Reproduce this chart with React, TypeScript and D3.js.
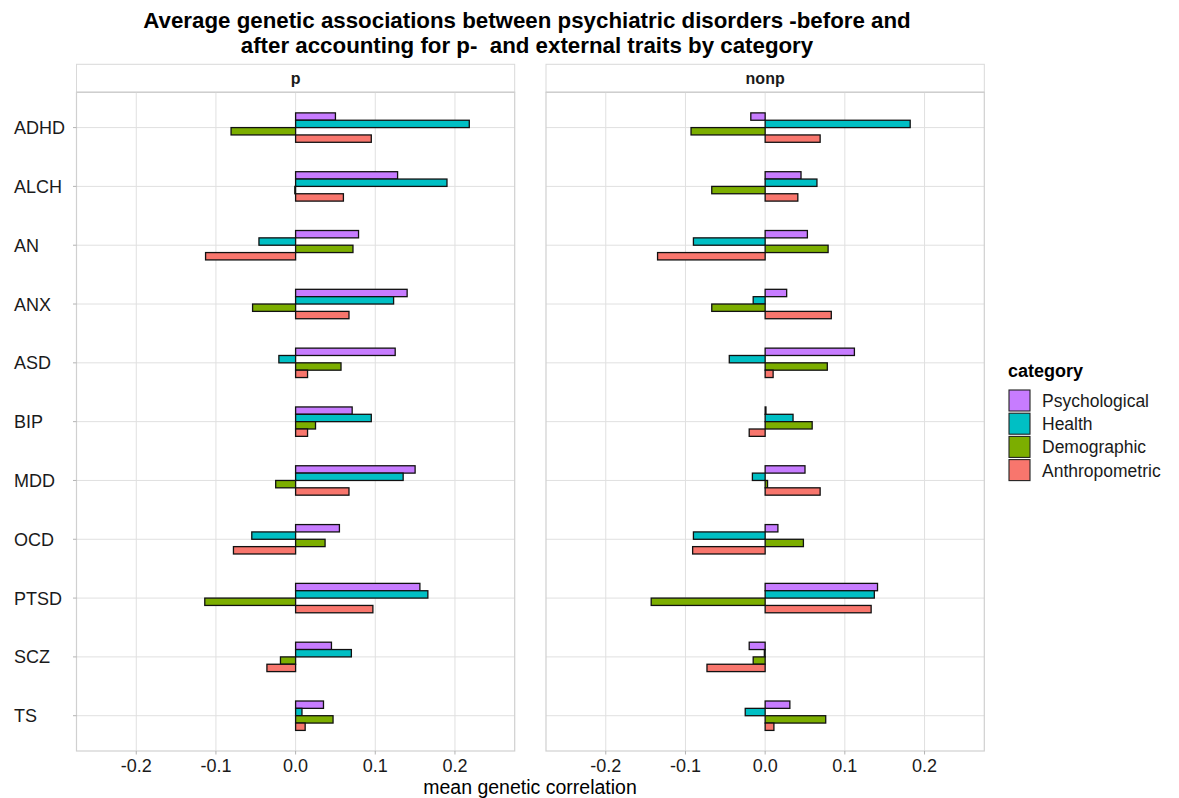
import React from 'react';
import * as d3 from 'd3';

// mean genetic correlation per disorder
const disorders = ['ADHD', 'ALCH', 'AN', 'ANX', 'ASD', 'BIP', 'MDD', 'OCD', 'PTSD', 'SCZ', 'TS'];
const categories = ['Psychological', 'Health', 'Demographic', 'Anthropometric'];
const facets = ['p', 'nonp'];
const xTicks = [-0.2, -0.1, 0.0, 0.1, 0.2];

const pPsychological = [0.050, 0.128, 0.079, 0.140, 0.125, 0.071, 0.150, 0.055, 0.156, 0.045, 0.035];
const pHealth = [0.218, 0.190, -0.046, 0.123, -0.021, 0.095, 0.135, -0.055, 0.166, 0.070, 0.008];
const pDemographic = [-0.081, -0.001, 0.072, -0.054, 0.057, 0.025, -0.025, 0.037, -0.114, -0.019, 0.047];
const pAnthropometric = [0.095, 0.060, -0.113, 0.067, 0.015, 0.015, 0.067, -0.078, 0.097, -0.036, 0.012];

const nonpPsychological = [-0.018, 0.045, 0.053, 0.027, 0.112, 0.001, 0.050, 0.016, 0.141, -0.020, 0.031];
const nonpHealth = [0.182, 0.065, -0.090, -0.015, -0.045, 0.035, -0.016, -0.090, 0.137, -0.001, -0.025];
const nonpDemographic = [-0.093, -0.067, 0.079, -0.067, 0.078, 0.059, 0.003, 0.048, -0.143, -0.015, 0.076];
const nonpAnthropometric = [0.069, 0.041, -0.135, 0.083, 0.010, -0.020, 0.069, -0.091, 0.133, -0.073, 0.011];

const categoryColors = ['#C77CFF', '#00BFC4', '#7CAE00', '#F8766D'];

const facetValues: Record<string, number[][]> = {
  p: [pPsychological, pHealth, pDemographic, pAnthropometric],
  nonp: [nonpPsychological, nonpHealth, nonpDemographic, nonpAnthropometric],
};

const W = 1179;
const H = 798;
const FONT = '"Liberation Sans", Arial, Helvetica, sans-serif';

const panelTop = 92.3;
const panelBottom = 751;
const stripTop = 64.3;
const panels = [
  { x0: 76.5, x1: 514.7 },
  { x0: 546, x1: 984.3 },
];

const App: React.FC = () => {
  const y = d3.scaleBand<string>()
    .domain(disorders)
    .range([panelTop, panelBottom])
    .paddingInner(0)
    .paddingOuter(0.1);

  const step = y.step();
  const dodge = d3.scaleBand<string>()
    .domain(categories)
    .range([-step * 0.25, step * 0.25])
    .padding(0);

  const color = d3.scaleOrdinal<string, string>().domain(categories).range(categoryColors);

  const centerY = (d: string) => (y(d) ?? 0) + y.bandwidth() / 2;

  return (
    <svg width={W} height={H} style={{ position: 'absolute', left: 0, top: 0, background: '#fff' }}
      fontFamily={FONT}>
      <text x={527} y={28} textAnchor="middle" fontSize={22.3} fontWeight="bold" fill="#000"
        style={{ whiteSpace: 'pre' }}>
        Average genetic associations between psychiatric disorders -before and
      </text>
      <text x={527} y={53} textAnchor="middle" fontSize={22.3} fontWeight="bold" fill="#000"
        style={{ whiteSpace: 'pre' }}>
        {'after accounting for p-  and external traits by category'}
      </text>

      {facets.map((facet, fi) => {
        const { x0, x1 } = panels[fi];
        const x = d3.scaleLinear().domain([-0.275, 0.275]).range([x0, x1]);
        const values = facetValues[facet];
        return (
          <g key={facet}>
            {/* strip */}
            <rect x={x0} y={stripTop} width={x1 - x0} height={panelTop - stripTop}
              fill="#fff" stroke="#d9d9d9" strokeWidth={1} />
            <line x1={x0} x2={x1} y1={panelTop} y2={panelTop} stroke="#c4c4c4" strokeWidth={1.2} />
            <text x={(x0 + x1) / 2} y={(stripTop + panelTop) / 2 + 5.5} textAnchor="middle"
              fontSize={16} fontWeight="bold" fill="#1a1a1a">{facet}</text>

            {/* grid */}
            {xTicks.map(t => (
              <line key={`gx${t}`} x1={x(t)} x2={x(t)} y1={panelTop} y2={panelBottom}
                stroke="#e0e0e0" strokeWidth={1} />
            ))}
            {disorders.map(d => (
              <line key={`gy${d}`} x1={x0} x2={x1} y1={centerY(d)} y2={centerY(d)}
                stroke="#e0e0e0" strokeWidth={1} />
            ))}

            {/* bars */}
            {categories.map((c, ci) => (
              <g key={c}>
                {disorders.map((d, di) => {
                  const v = values[ci][di];
                  const top = centerY(d) + (dodge(c) ?? 0);
                  return (
                    <rect key={d} x={Math.min(x(0), x(v))} y={top}
                      width={Math.abs(x(v) - x(0))} height={dodge.bandwidth()}
                      fill={color(c)} stroke="#111" strokeWidth={1.3} />
                  );
                })}
              </g>
            ))}

            {/* panel border */}
            <rect x={x0} y={panelTop} width={x1 - x0} height={panelBottom - panelTop}
              fill="none" stroke="#d0d0d0" strokeWidth={1.2} />

            {/* x axis */}
            {xTicks.map(t => (
              <g key={`tx${t}`}>
                <line x1={x(t)} x2={x(t)} y1={panelBottom} y2={panelBottom + 3.5}
                  stroke="#b3b3b3" strokeWidth={1} />
                <text x={x(t)} y={panelBottom + 21} textAnchor="middle" fontSize={18} fill="#1a1a1a">
                  {t.toFixed(1)}
                </text>
              </g>
            ))}
          </g>
        );
      })}

      {/* y axis */}
      {disorders.map(d => (
        <g key={`ty${d}`}>
          <line x1={panels[0].x0 - 3.5} x2={panels[0].x0} y1={centerY(d)} y2={centerY(d)}
            stroke="#b3b3b3" strokeWidth={1} />
          <text x={14} y={centerY(d) + 6.5} fontSize={18} fill="#1a1a1a">{d}</text>
        </g>
      ))}

      <text x={530} y={794} textAnchor="middle" fontSize={19.5} fill="#000">mean genetic correlation</text>

      {/* legend */}
      <text x={1008} y={377} fontSize={18} fontWeight="bold" fill="#000">category</text>
      {categories.map((c, i) => (
        <g key={`lg${c}`} transform={`translate(1008, ${389 + i * 23.2})`}>
          <rect x={1} y={1} width={21} height={21} fill={color(c)} stroke="#222" strokeWidth={1.1} />
          <text x={34} y={18} fontSize={17.5} fill="#1a1a1a">{c}</text>
        </g>
      ))}
    </svg>
  );
};

export default App;
